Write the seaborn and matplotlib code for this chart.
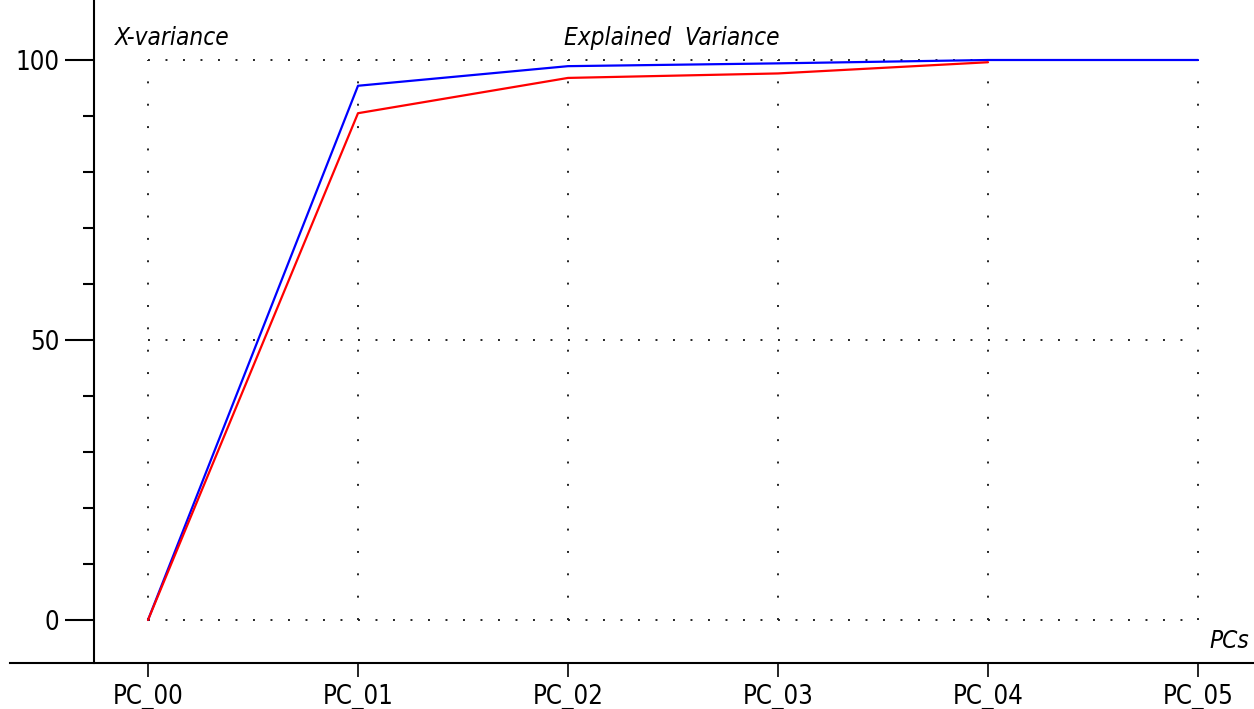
import numpy as np
import matplotlib
matplotlib.use("Agg")
import matplotlib.pyplot as plt
import seaborn as sns
import pandas as pd

pcs = ["PC_00", "PC_01", "PC_02", "PC_03", "PC_04", "PC_05"]
blue_vals = [0, 95.4, 98.9, 99.4, 100, 100]
red_vals = [0, 90.5, 96.8, 97.6, 99.6, np.nan]

sns.set_style("white")
plt.rcParams['font.family'] = ['DejaVu Sans']
plt.rcParams['font.stretch'] = 'condensed'
plt.rcParams['text.color'] = 'black'
plt.rcParams['xtick.color'] = 'black'
plt.rcParams['ytick.color'] = 'black'

fig = plt.figure(figsize=(12.54, 7.09), dpi=100)
# axes spans almost the whole figure; bottom spine runs from x=10px
ax = fig.add_axes([10/1254, (709-663)/709, 1 - 10/1254, 663/709])

df = pd.DataFrame({"pos": range(len(pcs)), "blue": blue_vals, "red": red_vals})

sns.lineplot(data=df, x="pos", y="blue", color="#0000ff", lw=1.6, ax=ax)
sns.lineplot(data=df.dropna(), x="pos", y="red", color="#ff0000", lw=1.6, ax=ax)

px = 210.0
ax.set_xlim(-(148 - 10)/px, 5 + (1254 - 1198)/px)
ax.set_ylim(-(663 - 620)/5.6, 100 + 60/5.6)

# dotted grid only inside the data area
yt = [0, 50, 100]
for y in yt:
    ax.plot([0, 5], [y, y], ls=(0, (1, 8)), color="#222222", lw=1.4, zorder=0)
for i in range(len(pcs)):
    ax.plot([i, i], [0, 100], ls=(0, (1, 10.5)), color="#222222", lw=1.4, zorder=0)

ax.spines['top'].set_visible(False)
ax.spines['right'].set_visible(False)
ax.spines['left'].set_position(('data', -(148 - 94)/px))
for s in ['left', 'bottom']:
    ax.spines[s].set_color("black")
    ax.spines[s].set_linewidth(1.5)

ax.set_yticks(yt)
ax.set_yticklabels([str(v) for v in yt], fontsize=18.5)
ax.set_yticks(np.arange(0, 101, 10), minor=True)
ax.tick_params(axis='y', which='major', left=True, length=21, width=1.5, direction='out', pad=4)
ax.tick_params(axis='y', which='minor', left=True, length=8, width=1.5, direction='out')

ax.set_xticks(range(len(pcs)))
ax.set_xticklabels(pcs, fontsize=18.5)
ax.tick_params(axis='x', which='major', bottom=True, length=10, width=1.2, direction='out', pad=5)
ax.set_xlabel("")
ax.set_ylabel("")

fig.text(115/1254, 1 - 38/709, "X-variance", style='italic', fontsize=17.5, va='center', ha='left')
fig.text(672/1254, 1 - 38/709, "Explained  Variance", style='italic', fontsize=17.5, va='center', ha='center')
fig.text(1229/1254, 1 - 641/709, "PCs", style='italic', fontsize=17.5, va='center', ha='center')

fig.savefig("out.png", dpi=100)
